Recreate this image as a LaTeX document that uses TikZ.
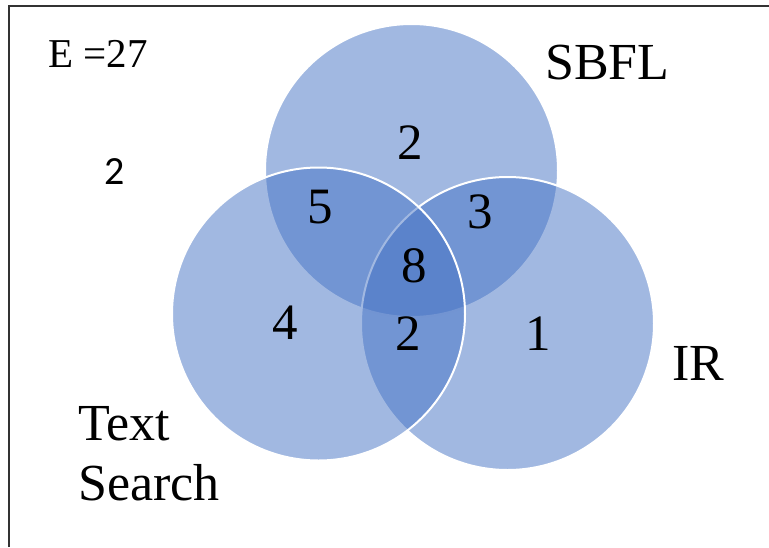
\documentclass[tikz,border=0pt]{standalone}
\usepackage{fontspec}
\setmainfont{Liberation Serif}
\newfontfamily\sansdigits{Carlito}
\begin{document}
\begin{tikzpicture}[x=1pt, y=-1pt,
  setcircle/.style={circle, minimum size=293pt, inner sep=0pt,
    fill={rgb,255:red,68;green,114;blue,196}, fill opacity=0.5,
    draw=white, line width=2pt},
  setlabel/.style={font=\fontsize{52}{60}\selectfont, anchor=base west, inner sep=0pt},
  count/.style={font=\fontsize{51}{58}\selectfont, anchor=base, inner sep=0pt}]
  \useasboundingbox (0,0) rectangle (769,547);
  % frame (only its left and top edges fall inside the page)
  \draw[line width=1.3pt, black!80] (9,547) -- (9,6) -- (769,6);
  % the three sets
  \node[setcircle] (sbfl) at (411.5,170.5) {};
  \node[setcircle] (ir) at (507.5,323.5) {};
  \node[setcircle] (ts) at (318.5,314) {};
  % set names
  \node[setlabel] (lsbfl) at (545,79) {SBFL};
  \node[setlabel] (lir) at (672,380) {IR};
  \node[setlabel] (lts) at (78,440) {Text};
  \node[setlabel] (lts2) at (78,500) {Search};
  \node[font=\fontsize{41}{48}\selectfont, anchor=base west, inner sep=0pt] (e) at (48,67) {E =27};
  \node[font=\sansdigits\fontsize{40}{46}\selectfont, anchor=base, inner sep=0pt] (out) at (115,184) {2};
  % region counts
  \node[count] (nS) at (410,159) {2};
  \node[count] (nST) at (320,223) {5};
  \node[count] (nSI) at (480,228) {3};
  \node[count] (nSTI) at (414,282) {8};
  \node[count] (nT) at (285,339) {4};
  \node[count] (nTI) at (408,350) {2};
  \node[count] (nI) at (538,350) {1};
\end{tikzpicture}
\end{document}
